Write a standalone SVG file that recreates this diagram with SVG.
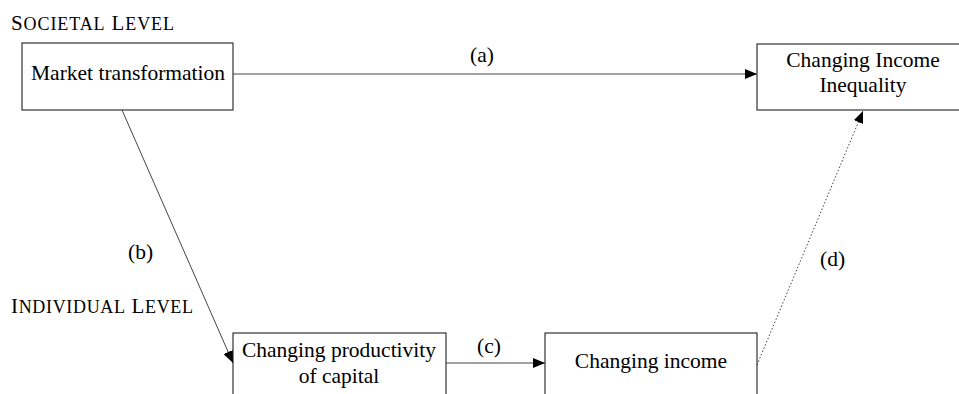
<svg xmlns="http://www.w3.org/2000/svg" width="959" height="394" viewBox="0 0 959 394">
<style>
text{font-family:"Liberation Serif","Times New Roman",serif;font-size:21.5px;fill:#000}
.lvl{font-size:21px}
.sm{font-size:18px}
.box{fill:#fff;stroke:#333;stroke-width:1.2}
.c{text-anchor:middle}
.ln{fill:none;stroke:#444;stroke-width:1}
.dot{fill:none;stroke:#444;stroke-width:1;stroke-dasharray:1.5 2}
</style>
<defs>
<marker id="ah" markerWidth="12" markerHeight="10" refX="12" refY="5" orient="auto" markerUnits="userSpaceOnUse" viewBox="0 0 12 10">
<path d="M0,0 L12,5 L0,10 Z" fill="#000"/>
</marker>
</defs>
<rect width="959" height="394" fill="#fff"/>
<text class="lvl" x="11" y="30" textLength="163" lengthAdjust="spacing">S<tspan class="sm">OCIETAL</tspan> L<tspan class="sm">EVEL</tspan></text>
<text class="lvl" x="11" y="313" textLength="182" lengthAdjust="spacing">I<tspan class="sm">NDIVIDUAL</tspan> L<tspan class="sm">EVEL</tspan></text>
<g id="market">
<rect class="box" x="22" y="43" width="211" height="67"/>
<text x="31" y="80">Market transformation</text>
</g>
<g id="inequality">
<rect class="box" x="757" y="44" width="220" height="66"/>
<text class="c" x="863" y="67">Changing Income</text>
<text class="c" x="863" y="92">Inequality</text>
</g>
<g id="productivity">
<rect class="box" x="233" y="333" width="213" height="80"/>
<text class="c" x="339" y="357">Changing productivity</text>
<text class="c" x="339" y="383">of capital</text>
</g>
<g id="income">
<rect class="box" x="545" y="333" width="212" height="80"/>
<text class="c" x="651" y="368">Changing income</text>
</g>
<g id="connectors">
<line class="ln" x1="233" y1="74" x2="757" y2="74" marker-end="url(#ah)"/>
<line class="ln" x1="122" y1="110" x2="233" y2="363" marker-end="url(#ah)"/>
<line class="ln" x1="446" y1="363" x2="545" y2="363" marker-end="url(#ah)"/>
<line class="dot" x1="757" y1="365" x2="863" y2="111" marker-end="url(#ah)"/>
<text x="470" y="62">(a)</text>
<text x="128" y="259">(b)</text>
<text x="477" y="353">(c)</text>
<text x="820" y="266">(d)</text>
</g>
</svg>
